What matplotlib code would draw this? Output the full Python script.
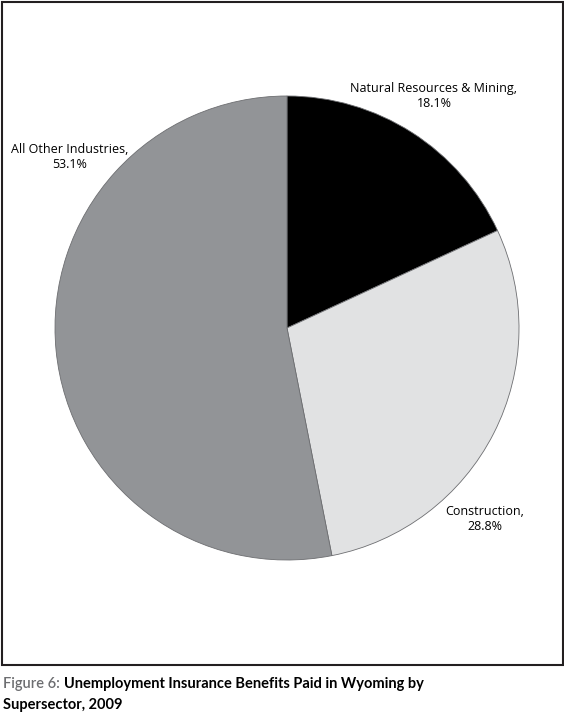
import matplotlib.pyplot as plt
from matplotlib.patches import Rectangle

sectors = ["Natural Resources & Mining", "Construction", "All Other Industries"]
shares = [18.1, 28.8, 53.1]
colors = ["#000000", "#e1e2e3", "#929497"]

W, H = 564, 723
fig = plt.figure(figsize=(W / 100, H / 100), dpi=100)
fig.patch.set_facecolor("white")

plt.rcParams['font.family'] = ['Open Sans', 'DejaVu Sans']

# pie: center (287, 328) px, radius 232 px
cx, cy, r = 287, 328, 232
ax = fig.add_axes([(cx - r) / W, (H - cy - r) / H, 2 * r / W, 2 * r / H])
ax.pie(shares, colors=colors, startangle=90, counterclock=False,
       wedgeprops=dict(edgecolor="#6d6e71", linewidth=0.6))
ax.set_xlim(-1.0, 1.0)
ax.set_ylim(-1.0, 1.0)
ax.axis("off")

# label positions (pixel centres)
label_pos = [(434, 96), (485, 519), (70, 157)]
for name, val, (x, y) in zip(sectors, shares, label_pos):
    fig.text(x / W, 1 - y / H, f"{name},\n{val}%", ha="center", va="center",
             fontsize=9, linespacing=1.2, color="black")

# outer frame
fig.patches.append(Rectangle((1.5 / W, 1 - 664.5 / H), 561 / W, 663 / H,
                             transform=fig.transFigure, fill=False,
                             edgecolor="#231f20", linewidth=1.5))

# caption
cap_font = ['Lato', 'DejaVu Sans']
t = fig.text(3 / W, 1 - 684 / H, "Figure 6: ", fontsize=10.5, color="#6d6e71",
             family=cap_font, fontweight="semibold", ha="left", va="center")
fig.canvas.draw()
bb = t.get_window_extent()
fig.text(bb.x1 / W, 1 - 684 / H,
         "Unemployment Insurance Benefits Paid in Wyoming by",
         fontsize=10.5, color="black", family=cap_font, fontweight="bold",
         ha="left", va="center")
fig.text(3 / W, 1 - 705 / H, "Supersector, 2009", fontsize=10.5, color="black",
         family=cap_font, fontweight="bold", ha="left", va="center")

fig.savefig("out.png", dpi=100)
